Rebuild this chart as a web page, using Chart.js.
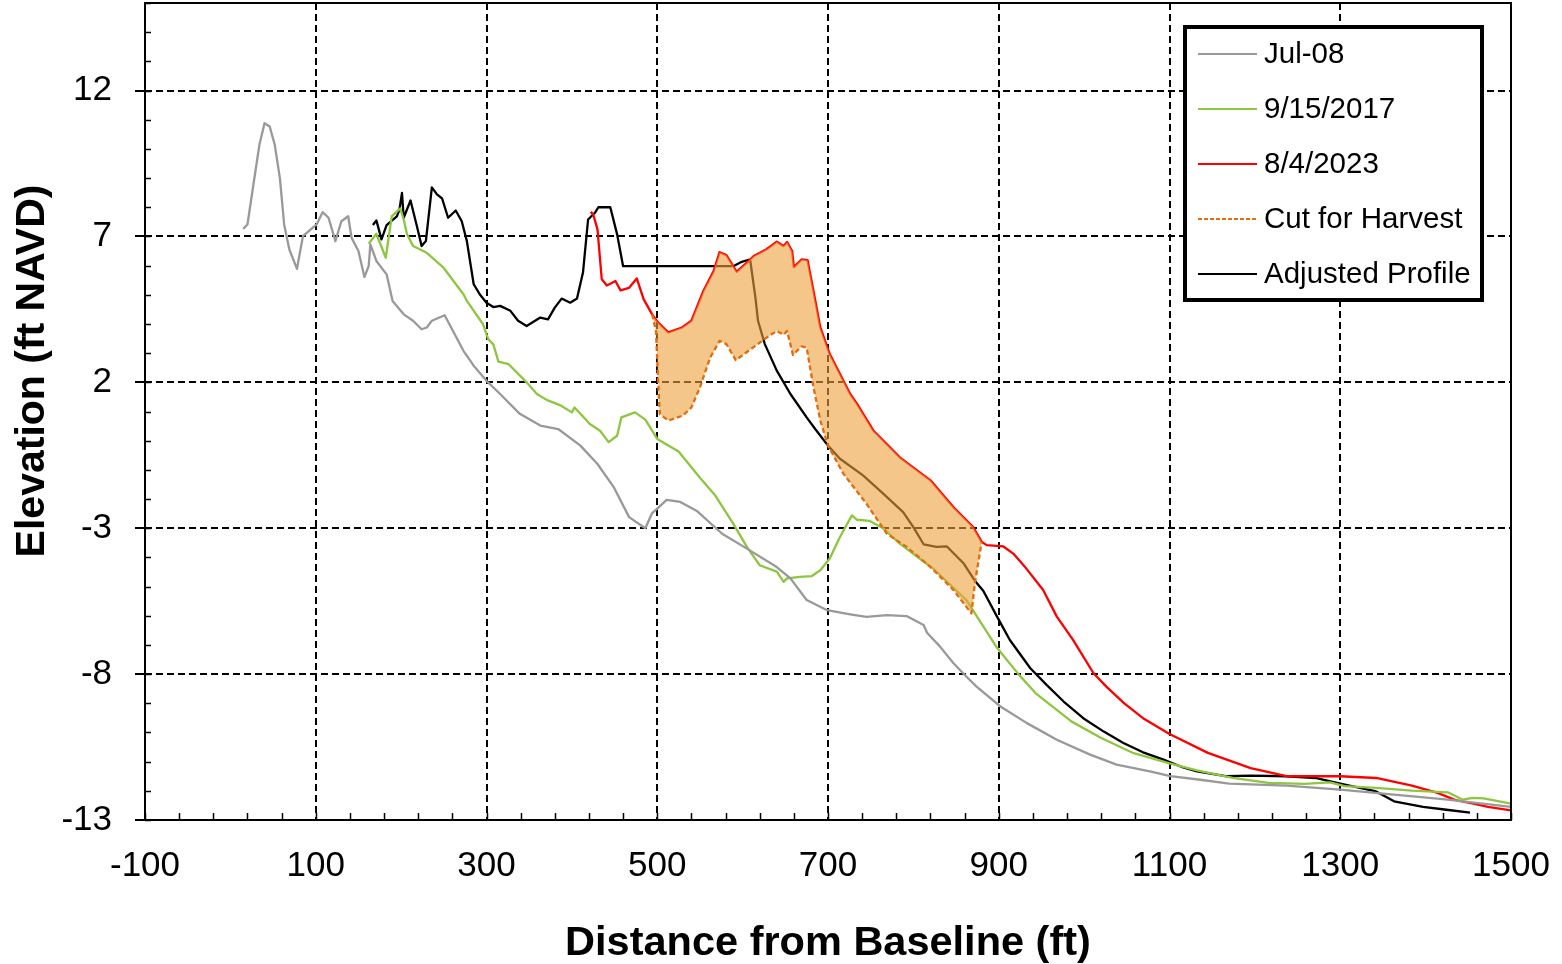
<!DOCTYPE html>
<html>
<head>
<meta charset="utf-8">
<script src="https://cdn.jsdelivr.net/npm/chart.js@4.4.0/dist/chart.umd.min.js"></script>
<style>
  html, body { margin: 0; padding: 0; background: #fff; }
  #wrap { width: 1562px; height: 964px; }
</style>
</head>
<body>
<div id="wrap"><canvas id="profileChart" width="1562" height="964"></canvas></div>
<script>
// Profile data (distance ft, elevation ft NAVD)
const jul08X = [15, 20, 27, 34, 40, 46, 52, 58, 63, 69, 78, 85, 101, 108, 115, 123, 130, 138, 142, 150,
  157, 162, 164, 171, 183, 190, 203, 214, 224, 230, 236, 251, 273, 285, 300, 316, 339, 363, 384, 410,
  430, 449, 467, 486, 494, 500, 511, 527, 547, 576, 605, 640, 656, 675, 699, 726, 745, 769, 792, 812,
  816, 831, 847, 862, 874, 902, 933, 968, 1007, 1038, 1077, 1101, 1136, 1170, 1237, 1300, 1363, 1426, 1500];
const jul08Y = [7.26, 7.41, 8.78, 10.14, 10.88, 10.77, 10.14, 9.0, 7.41, 6.56, 5.89, 7.01, 7.41, 7.83, 7.64, 6.84, 7.52, 7.69, 6.95, 6.5,
  5.61, 5.98, 6.73, 6.16, 5.70, 4.79, 4.33, 4.11, 3.82, 3.88, 4.11, 4.30, 3.08, 2.57, 2.05, 1.6, 0.92, 0.52, 0.40, -0.17,
  -0.80, -1.59, -2.62, -3.0, -2.48, -2.33, -2.03, -2.1, -2.42, -3.19, -3.70, -4.33, -4.72, -5.46, -5.81, -5.95, -6.04, -5.98, -6.01, -6.32,
  -6.58, -7.05, -7.63, -8.08, -8.43, -9.11, -9.68, -10.25, -10.76, -11.10, -11.33, -11.50, -11.62, -11.75, -11.82, -11.96, -12.13, -12.30, -12.55];

const sep2017X = [162, 171, 182, 189, 199, 203, 207, 214, 230, 249, 273, 277, 296, 302, 308, 314, 326, 347, 359, 371,
  386, 400, 403, 410, 421, 433, 443, 453, 458, 474, 486, 500, 525, 550, 568, 589, 605, 620, 640, 648,
  652, 667, 681, 691, 702, 714, 728, 734, 749, 765, 784, 823, 862, 898, 923, 943, 985, 1020, 1058, 1099,
  1132, 1174, 1216, 1258, 1288, 1305, 1342, 1384, 1426, 1443, 1456, 1468, 1500];
const sep2017Y = [6.75, 7.09, 6.27, 7.69, 7.96, 7.58, 7.07, 6.67, 6.44, 5.95, 5.02, 4.79, 3.99, 3.48, 3.30, 2.71, 2.62, 2.00, 1.60, 1.39,
  1.22, 0.97, 1.14, 0.92, 0.57, 0.34, -0.05, 0.17, 0.80, 0.97, 0.72, 0.06, -0.37, -1.27, -1.88, -2.84, -3.64, -4.27, -4.49, -4.84,
  -4.72, -4.67, -4.64, -4.44, -4.04, -3.30, -2.56, -2.71, -2.75, -3.01, -3.53, -4.38, -5.46, -7.10, -8.00, -8.65, -9.62, -10.19, -10.71, -11.05,
  -11.30, -11.56, -11.73, -11.76, -11.71, -11.84, -11.90, -11.99, -12.05, -12.30, -12.24, -12.26, -12.44];

const aug2023X = [422, 425, 430, 435, 441, 451, 457, 467, 476, 484, 494, 501, 513, 529, 540, 554, 566, 573, 581, 593,
  605, 613, 628, 640, 648, 652, 658, 660, 669, 676, 683, 691, 702, 726, 734, 753, 784, 820, 847, 870,
  880, 886, 905, 917, 930, 952, 968, 987, 1011, 1026, 1047, 1069, 1100, 1145, 1195, 1237, 1300, 1342, 1384, 1414,
  1435, 1456, 1473, 1500];
const aug2023Y = [7.84, 7.75, 7.24, 5.53, 5.32, 5.47, 5.15, 5.24, 5.56, 4.85, 4.33, 4.05, 3.71, 3.88, 4.11, 5.13, 5.81, 6.46, 6.36, 5.79,
  6.10, 6.33, 6.56, 6.82, 6.67, 6.81, 6.50, 5.95, 6.21, 6.19, 5.13, 3.88, 2.97, 1.60, 1.26, 0.35, -0.57, -1.36, -2.28, -2.96,
  -3.47, -3.58, -3.62, -3.87, -4.30, -5.12, -6.03, -6.83, -7.97, -8.43, -9.00, -9.51, -10.05, -10.70, -11.22, -11.50, -11.50, -11.56, -11.82, -12.07,
  -12.32, -12.44, -12.55, -12.67];

const cutX = [494, 498.5, 501, 503, 513, 530, 540, 550, 562, 573, 581, 592, 612, 628, 640, 648,
  652, 659, 669, 675, 683, 691, 700, 718, 745, 769, 792, 820, 847, 868, 872, 880];
const cutY = [4.33, 3.76, 2.05, 0.91, 0.69, 0.86, 1.14, 1.83, 2.85, 3.42, 3.31, 2.76, 3.19, 3.53, 3.76, 3.63,
  3.76, 2.94, 3.23, 3.19, 1.83, 0.69, -0.17, -1.13, -2.16, -3.19, -3.64, -4.33, -5.12, -5.92, -4.89, -3.47];

const adjustedX = [167, 171, 177, 183, 195, 198, 201, 203, 211, 218, 224, 229, 236, 242, 248, 255, 264, 271, 277, 285,
  292, 300, 308, 316, 328, 337, 347, 363, 372, 380, 388, 398, 406, 413, 419, 427, 431, 445, 453, 460,
  589, 599, 607, 609, 615, 618, 626, 640, 656, 675, 685, 700, 714, 741, 765, 788, 800, 812, 827, 839,
  859, 872, 882, 898, 913, 937, 956, 976, 999, 1023, 1046, 1069, 1093, 1116, 1132, 1166, 1195, 1237, 1271, 1300,
  1342, 1363, 1397, 1422, 1452];
const adjustedY = [7.39, 7.55, 6.90, 7.39, 7.69, 7.92, 8.49, 7.64, 8.23, 7.41, 6.67, 6.84, 8.68, 8.44, 8.30, 7.64, 7.89, 7.52, 6.84, 5.36,
  5.02, 4.73, 4.58, 4.62, 4.45, 4.11, 3.93, 4.22, 4.16, 4.56, 4.87, 4.73, 4.87, 5.76, 7.58, 7.81, 8.00, 8.00, 7.07, 5.98,
  5.98, 6.13, 6.20, 6.16, 4.90, 4.11, 3.31, 2.40, 1.60, 0.80, 0.40, -0.17, -0.62, -1.19, -1.82, -2.45, -2.96, -3.55, -3.64, -3.62,
  -4.21, -4.80, -5.15, -6.03, -6.83, -7.80, -8.37, -8.94, -9.51, -9.97, -10.36, -10.68, -10.93, -11.20, -11.33, -11.50, -11.48, -11.50, -11.56, -11.75,
  -12.02, -12.36, -12.55, -12.64, -12.75];

const xTicks = [-100, 100, 300, 500, 700, 900, 1100, 1300, 1500];
const xTickLabels = ['-100', '100', '300', '500', '700', '900', '1100', '1300', '1500'];
const yTicks = [-13, -8, -3, 2, 7, 12];
const yTickLabels = ['-13', '-8', '-3', '2', '7', '12'];
const xMinorStep = 40;
const yMinorStep = 1;

const FONT = '"Liberation Sans", Arial, sans-serif';

function pts(xs, ys) {
  return xs.map((x, i) => ({ x: x, y: ys[i] }));
}

// the scales reserve room for edge labels, drop that so the plot fills the page like the original
function fixBox(s, size) {
  if (s.isHorizontal()) s.height = size; else s.width = size;
  s.paddingTop = 0;
  s.paddingBottom = 0;
  s.paddingLeft = 0;
  s.paddingRight = 0;
}

// box frame + small inside ticks like the spreadsheet plot
const framePlugin = {
  id: 'frame',
  afterDatasetsDraw(chart) {
    const { ctx, chartArea: a, scales } = chart;
    const x = scales.x, y = scales.y;
    ctx.save();
    ctx.strokeStyle = '#000';
    ctx.setLineDash([]);
    ctx.lineWidth = 2;
    ctx.strokeRect(a.left, a.top, a.right - a.left, a.bottom - a.top);
    ctx.lineWidth = 1.5;
    ctx.beginPath();
    for (let v = y.min; v <= y.max; v += yMinorStep) {
      const py = Math.round(y.getPixelForValue(v)) + 0.5;
      ctx.moveTo(a.left, py);
      ctx.lineTo(a.left + 6, py);
    }
    for (let v = x.min; v <= x.max; v += xMinorStep) {
      const px = Math.round(x.getPixelForValue(v)) + 0.5;
      ctx.moveTo(px, a.bottom);
      ctx.lineTo(px, a.bottom - 7);
    }
    ctx.stroke();
    ctx.restore();
  }
};

// boxed legend in the top right corner, and the y title
const legendPlugin = {
  id: 'boxLegend',
  afterDraw(chart) {
    const ctx = chart.ctx;
    const left = 1185, top = 27, w = 297, h = 273;
    ctx.save();
    ctx.fillStyle = '#fff';
    ctx.fillRect(left, top, w, h);
    ctx.lineWidth = 4;
    ctx.strokeStyle = '#000';
    ctx.strokeRect(left, top, w, h);
    ctx.font = '29.5px ' + FONT;
    ctx.textBaseline = 'middle';
    chart.data.datasets.forEach((ds, i) => {
      const cy = 54 + i * 55;
      ctx.strokeStyle = ds.borderColor;
      ctx.lineWidth = 2;
      ctx.setLineDash(ds.borderDash ? [4, 2] : []);
      ctx.beginPath();
      ctx.moveTo(1198, cy);
      ctx.lineTo(1257, cy);
      ctx.stroke();
      ctx.setLineDash([]);
      ctx.fillStyle = '#000';
      ctx.fillText(ds.label, 1264, cy + 1);
    });
    ctx.translate(33, 371);
    ctx.rotate(-Math.PI / 2);
    ctx.font = 'bold 41px ' + FONT;
    ctx.textAlign = 'center';
    ctx.fillStyle = '#000';
    ctx.fillText('Elevation (ft NAVD)', 0, 0);
    ctx.restore();
  }
};

const lineStyle = { pointRadius: 0, borderWidth: 2.3, tension: 0, borderJoinStyle: 'round', fill: false };

const ctx = document.getElementById('profileChart').getContext('2d');
const chart = new Chart(ctx, {
  type: 'line',
  data: {
    datasets: [
      Object.assign({ label: 'Jul-08', data: pts(jul08X, jul08Y), borderColor: '#999999' }, lineStyle),
      Object.assign({ label: '9/15/2017', data: pts(sep2017X, sep2017Y), borderColor: '#8DC63F' }, lineStyle),
      Object.assign({ label: '8/4/2023', data: pts(aug2023X, aug2023Y), borderColor: '#FF0000' }, lineStyle),
      Object.assign({}, lineStyle, {
        label: 'Cut for Harvest', data: pts(cutX, cutY), borderColor: '#E46C0A', borderDash: [5, 3],
        backgroundColor: 'rgba(236, 160, 60, 0.6)', fill: 2, order: -1
      }),
      Object.assign({ label: 'Adjusted Profile', data: pts(adjustedX, adjustedY), borderColor: '#000000' }, lineStyle)
    ]
  },
  options: {
    responsive: false,
    animation: false,
    layout: { padding: { top: 3, right: 51, left: 0, bottom: 0 } },
    plugins: {
      legend: { display: false },
      tooltip: { enabled: false }
    },
    scales: {
      x: {
        type: 'linear',
        min: -100,
        max: 1500,
        afterBuildTicks: s => { s.ticks = xTicks.map(v => ({ value: v })); },
        afterFit: s => fixBox(s, 144),
        ticks: {
          font: { family: FONT, size: 35 }, color: '#000', padding: 25,
          maxRotation: 0, autoSkip: false,
          callback: (v, i) => xTickLabels[i]
        },
        grid: { color: '#000', lineWidth: 2, drawTicks: false },
        border: { display: false, dash: [7, 4] },
        title: {
          display: true, text: 'Distance from Baseline (ft)', color: '#000',
          font: { family: FONT, size: 41.5, weight: 'bold' }, padding: { top: -4, bottom: -4 }
        }
      },
      y: {
        type: 'linear',
        min: -13,
        max: 15,
        afterBuildTicks: s => { s.ticks = yTicks.map(v => ({ value: v })); },
        afterFit: s => fixBox(s, 145),
        ticks: {
          font: { family: FONT, size: 35 }, color: '#000', padding: 23,
          autoSkip: false,
          callback: (v, i) => yTickLabels[i]
        },
        grid: { color: '#000', lineWidth: 2, drawTicks: true, tickLength: 10, tickColor: '#000', tickWidth: 2 },
        border: { display: false, dash: [7, 4] }
      }
    }
  },
  plugins: [framePlugin, legendPlugin]
});
</script>
</body>
</html>
